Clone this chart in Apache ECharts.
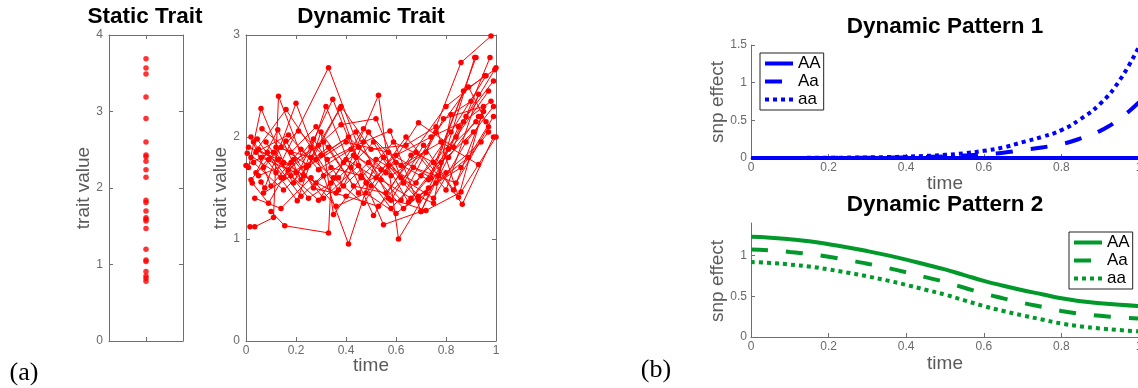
<!DOCTYPE html>
<html>
<head>
<meta charset="utf-8">
<script src="https://cdn.jsdelivr.net/npm/echarts@6/dist/echarts.min.js"></script>
<style>
  html, body { margin: 0; padding: 0; background: #fff; }
  #main { width: 1138px; height: 388px; }
</style>
</head>
<body>
<div id="main"></div>
<script>
// ---- data -------------------------------------------------------------
// static trait: one value per individual
const staticValues = [3.69, 3.57, 3.49, 3.19, 2.91, 2.60, 2.43, 2.41, 2.35, 2.24, 2.14,
  1.84, 1.81, 1.70, 1.61, 1.59, 1.57, 1.47, 1.20, 1.06, 1.04, 0.91, 0.85, 0.82, 0.78];

// dynamic trait: [time, value] measurements, one list per individual
const dynamicSubjects = [
  [[0.005,1.84],[0.12,1.65],[0.33,2.68],[0.45,1.90],[0.58,1.62],[0.72,1.85],[0.86,2.73],[0.98,2.99]],
  [[0.01,1.70],[0.06,2.28],[0.15,1.75],[0.28,1.55],[0.43,1.82],[0.55,1.14],[0.70,1.27],[0.85,2.10],[0.99,2.55]],
  [[0.016,1.12],[0.035,1.12],[0.11,1.21],[0.13,2.40],[0.24,1.70],[0.40,1.95],[0.57,1.85],[0.74,1.60],[0.92,2.78]],
  [[0.10,1.27],[0.155,1.13],[0.33,1.06],[0.34,1.55],[0.47,2.08],[0.62,1.72],[0.78,1.95],[0.93,1.73]],
  [[0.06,1.56],[0.075,1.50],[0.20,2.33],[0.31,1.62],[0.41,0.95],[0.52,1.78],[0.68,1.55],[0.82,2.05],[0.96,2.60]],
  [[0.02,1.80],[0.16,2.27],[0.26,1.90],[0.37,1.48],[0.53,2.41],[0.61,1.00],[0.72,1.45],[0.88,2.20],[1.00,2.68]],
  [[0.03,1.95],[0.205,1.375],[0.30,2.05],[0.35,1.24],[0.46,1.60],[0.59,1.95],[0.75,1.75],[0.865,1.34],[0.99,2.00]],
  [[0.04,1.65],[0.127,2.07],[0.22,1.58],[0.32,2.30],[0.42,1.70],[0.51,1.23],[0.66,1.82],[0.80,2.30],[0.955,2.60]],
  [[0.064,2.08],[0.18,1.85],[0.28,2.10],[0.39,1.75],[0.50,1.52],[0.64,2.00],[0.77,1.62],[0.915,2.78]],
  [[0.08,1.95],[0.19,1.55],[0.347,2.37],[0.44,1.80],[0.56,1.65],[0.69,2.14],[0.83,1.90],[0.976,2.78]],
  [[0.00,1.72],[0.14,1.90],[0.25,1.72],[0.376,2.28],[0.48,1.55],[0.60,1.75],[0.73,1.58],[0.87,2.45],[0.995,2.66]],
  [[0.05,1.88],[0.17,1.68],[0.29,1.92],[0.38,2.12],[0.52,2.18],[0.63,1.55],[0.76,2.05],[0.89,2.49],[0.96,2.15]],
  [[0.09,1.78],[0.21,2.06],[0.325,1.78],[0.47,1.95],[0.576,2.06],[0.70,1.27],[0.81,1.80],[0.93,2.20]],
  [[0.02,1.58],[0.11,1.85],[0.23,1.62],[0.36,1.45],[0.49,1.75],[0.62,1.38],[0.79,2.18],[0.95,2.30]],
  [[0.07,1.70],[0.16,1.96],[0.27,1.50],[0.40,1.42],[0.53,1.32],[0.67,1.70],[0.84,1.55],[0.97,2.10]],
  [[0.03,1.75],[0.15,1.48],[0.30,1.82],[0.44,2.05],[0.57,1.40],[0.72,1.28],[0.86,1.46],[1.00,2.00]],
  [[0.12,1.90],[0.26,1.80],[0.38,2.30],[0.50,1.88],[0.64,1.92],[0.76,2.10],[0.85,1.41],[0.94,2.20]],
  [[0.05,1.62],[0.18,1.75],[0.31,1.95],[0.45,1.45],[0.55,1.80],[0.69,1.42],[0.75,1.35],[0.82,2.22],[0.90,2.35]],
  [[0.085,1.85],[0.22,1.42],[0.34,1.70],[0.46,1.62],[0.58,1.38],[0.71,1.92],[0.83,1.48],[0.95,2.25]],
  [[0.01,1.90],[0.13,1.78],[0.25,1.40],[0.37,1.60],[0.51,1.95],[0.65,1.36],[0.78,1.75],[0.91,2.05]],
  [[0.06,1.80],[0.20,1.65],[0.33,1.90],[0.43,1.52],[0.56,1.45],[0.68,1.85],[0.80,1.48],[0.93,2.42]],
  [[0.14,1.60],[0.28,1.78],[0.41,2.00],[0.54,1.68],[0.60,1.82],[0.74,2.00],[0.87,2.15],[0.98,2.35]],
  [[0.04,1.85],[0.17,2.02],[0.29,1.68],[0.42,1.88],[0.54,1.58],[0.66,1.40],[0.81,1.88],[0.92,2.15]],
  [[0.025,1.55],[0.09,1.35],[0.19,1.78],[0.31,1.40],[0.45,1.72],[0.58,1.30],[0.70,1.62],[0.84,2.00],[0.97,2.45]],
  [[0.045,1.98],[0.15,1.60],[0.27,1.98],[0.39,1.52],[0.49,2.05],[0.62,1.60],[0.75,1.40],[0.88,1.95],[0.99,2.30]],
  [[0.035,1.40],[0.14,1.30],[0.26,1.60],[0.36,1.32],[0.48,1.45],[0.60,1.25],[0.73,1.50],[0.86,1.70],[0.97,2.05]],
  [[0.02,2.00],[0.10,1.52],[0.22,1.88],[0.35,1.60],[0.47,1.35],[0.57,1.72],[0.69,1.38],[0.80,1.65],[0.94,1.95]],
  [[0.07,1.45],[0.18,1.62],[0.29,1.38],[0.40,1.78],[0.52,1.60],[0.63,1.30],[0.76,1.55],[0.89,1.80],[0.99,2.20]]
];

// snp effect curves sampled on a common time grid
const timeGrid = [0, 0.05, 0.1, 0.15, 0.2, 0.25, 0.3, 0.35, 0.4, 0.45, 0.5,
  0.55, 0.6, 0.65, 0.7, 0.75, 0.8, 0.85, 0.9, 0.95, 1];
const genotypes = ['AA', 'Aa', 'aa'];

const pattern1AA = [0, 0, 0, 0, 0, 0, 0, 0, 0, 0, 0, 0, 0, 0, 0, 0, 0, 0, 0, 0, 0];
const pattern1Aa = [0, 0, 0, 0.001, 0.0015, 0.0025, 0.004, 0.006, 0.009, 0.014, 0.021,
  0.032, 0.048, 0.07, 0.105, 0.14, 0.185, 0.26, 0.36, 0.52, 0.74];
const pattern1aa = [0, 0, 0, 0.002, 0.003, 0.005, 0.008, 0.012, 0.018, 0.028, 0.042,
  0.063, 0.095, 0.14, 0.21, 0.28, 0.37, 0.52, 0.72, 1.03, 1.48];

const pattern2AA = [1.23, 1.22, 1.20, 1.175, 1.14, 1.10, 1.055, 1.005, 0.95, 0.89, 0.83,
  0.76, 0.69, 0.63, 0.575, 0.525, 0.475, 0.44, 0.415, 0.395, 0.38];
const pattern2Aa = [1.075, 1.065, 1.045, 1.02, 0.985, 0.945, 0.90, 0.85, 0.795, 0.735, 0.675,
  0.605, 0.535, 0.475, 0.42, 0.37, 0.32, 0.285, 0.26, 0.24, 0.225];
const pattern2aa = [0.92, 0.91, 0.89, 0.865, 0.83, 0.79, 0.745, 0.695, 0.64, 0.58, 0.52,
  0.45, 0.38, 0.32, 0.265, 0.215, 0.165, 0.13, 0.105, 0.085, 0.07];

// ---- styling ----------------------------------------------------------
const SANS = "'Liberation Sans', Arial, Helvetica, sans-serif";
const AXIS_GRAY = '#6f6f6f';
const LABEL_GRAY = '#6a6a6a';
const NAME_GRAY = '#5a5a5a';
const RED = '#ff0000';
const BLUE = '#0000ff';
const GREEN = '#00992a';
const DASH = [17, 18];
const DOT = [4, 4];
const lineTypes = ['solid', DASH, DOT];

const gridBase = { outerBoundsMode: 'none', containLabel: false };
const grids = [
  Object.assign({ left: 109, top: 35, width: 74, height: 306 }, gridBase),   // static trait
  Object.assign({ left: 246, top: 35, width: 250, height: 306 }, gridBase),  // dynamic trait
  Object.assign({ left: 751, top: 45, width: 388, height: 113 }, gridBase),  // dynamic pattern 1
  Object.assign({ left: 751, top: 223, width: 388, height: 114 }, gridBase)  // dynamic pattern 2
];

function axisBase(extra) {
  return Object.assign({
    type: 'value',
    splitLine: { show: false },
    axisLine: { show: true, onZero: false, lineStyle: { color: AXIS_GRAY, width: 1 } },
    axisTick: { show: true, inside: true, length: 4, lineStyle: { color: AXIS_GRAY } },
    axisLabel: { show: true, color: LABEL_GRAY, fontFamily: SANS, fontSize: 12, margin: 5 }
  }, extra);
}

const xAxes = [
  // static trait, bottom and mirrored top
  axisBase({ gridIndex: 0, min: 0, max: 2, position: 'bottom',
    axisTick: { show: true, inside: true, length: 4, customValues: [1], lineStyle: { color: AXIS_GRAY } },
    axisLabel: { show: false } }),
  axisBase({ gridIndex: 0, min: 0, max: 2, position: 'top',
    axisTick: { show: true, inside: true, length: 4, customValues: [1], lineStyle: { color: AXIS_GRAY } },
    axisLabel: { show: false } }),
  // dynamic trait
  axisBase({ gridIndex: 1, min: 0, max: 1, interval: 0.2, position: 'bottom',
    axisLabel: { show: true, color: LABEL_GRAY, fontFamily: SANS, fontSize: 12, margin: 4 } }),
  axisBase({ gridIndex: 1, min: 0, max: 1, interval: 0.2, position: 'top', axisLabel: { show: false } }),
  // patterns
  axisBase({ gridIndex: 2, min: 0, max: 1, interval: 0.2, position: 'bottom',
    axisLabel: { show: true, color: LABEL_GRAY, fontFamily: SANS, fontSize: 12, margin: 4 } }),
  axisBase({ gridIndex: 3, min: 0, max: 1, interval: 0.2, position: 'bottom',
    axisLabel: { show: true, color: LABEL_GRAY, fontFamily: SANS, fontSize: 12, margin: 4 } })
];

const yAxes = [
  axisBase({ gridIndex: 0, min: 0, max: 4, interval: 1, position: 'left',
    axisLabel: { show: true, color: LABEL_GRAY, fontFamily: SANS, fontSize: 12, margin: 6 } }),
  axisBase({ gridIndex: 0, min: 0, max: 4, interval: 1, position: 'right', axisLabel: { show: false } }),
  axisBase({ gridIndex: 1, min: 0, max: 3, interval: 1, position: 'left',
    axisLabel: { show: true, color: LABEL_GRAY, fontFamily: SANS, fontSize: 12, margin: 6 } }),
  axisBase({ gridIndex: 1, min: 0, max: 3, interval: 1, position: 'right', axisLabel: { show: false } }),
  axisBase({ gridIndex: 2, min: 0, max: 1.5, interval: 0.5, position: 'left',
    axisLabel: { show: true, color: LABEL_GRAY, fontFamily: SANS, fontSize: 12, margin: 4 } }),
  axisBase({ gridIndex: 3, min: 0, max: 1.4, position: 'left',
    axisTick: { show: true, inside: true, length: 4, customValues: [0, 0.5, 1], lineStyle: { color: AXIS_GRAY } },
    axisLabel: { show: true, color: LABEL_GRAY, fontFamily: SANS, fontSize: 12, margin: 4, customValues: [0, 0.5, 1] } })
];

// ---- series -----------------------------------------------------------
const series = [];

series.push({
  type: 'scatter', xAxisIndex: 0, yAxisIndex: 0,
  symbol: 'circle', symbolSize: 5.5,
  itemStyle: { color: RED },
  data: staticValues.map(v => [1, v]),
  silent: true
});

dynamicSubjects.forEach((pts, i) => {
  series.push({
    type: 'line', name: 'subject' + (i + 1), xAxisIndex: 2, yAxisIndex: 2,
    symbol: 'circle', symbolSize: 5.5, showSymbol: true,
    lineStyle: { color: RED, width: 1 },
    itemStyle: { color: RED },
    data: pts, silent: true
  });
});

const pattern1 = [pattern1AA, pattern1Aa, pattern1aa];
const pattern2 = [pattern2AA, pattern2Aa, pattern2aa];

[pattern1, pattern2].forEach((curves, p) => {
  const color = p === 0 ? BLUE : GREEN;
  curves.forEach((vals, g) => {
    series.push({
      type: 'line', name: 'p' + (p + 1) + ':' + genotypes[g],
      xAxisIndex: 4 + p, yAxisIndex: 4 + p,
      symbol: 'none', smooth: true,
      lineStyle: { color: color, width: 4, type: lineTypes[g], cap: 'butt' },
      itemStyle: { color: color },
      data: timeGrid.map((t, k) => [t, vals[k]]),
      z: 5 - g
    });
  });
});

function legendFor(p, left, top) {
  return {
    orient: 'vertical', left: left, top: top,
    data: genotypes.map(g => 'p' + p + ':' + g),
    formatter: name => name.split(':')[1],
    itemWidth: 28, itemHeight: 4, itemGap: 1,
    itemStyle: { opacity: 0 },
    lineStyle: { width: 4 },
    padding: [2, 3, 2, 3],
    borderColor: '#222', borderWidth: 1, backgroundColor: '#fff',
    textStyle: { color: '#000', fontFamily: SANS, fontSize: 17, lineHeight: 17 },
    selectedMode: false
  };
}

// ---- text -------------------------------------------------------------
function label(text, x, y, font, fill, rotation) {
  return {
    type: 'text', x: x, y: y, rotation: rotation || 0, silent: true,
    style: { text: text, font: font, fill: fill, textAlign: 'center', textVerticalAlign: 'middle' }
  };
}
const TITLE_FONT = 'bold 22.5px ' + SANS;
const NAME_FONT = '19px ' + SANS;
const PANEL_FONT = '26px "Liberation Serif", "DejaVu Serif", serif';

const texts = [
  label('Static Trait', 145, 17, TITLE_FONT, '#000'),
  label('Dynamic Trait', 371, 17, TITLE_FONT, '#000'),
  label('Dynamic Pattern 1', 945, 27, TITLE_FONT, '#000'),
  label('Dynamic Pattern 2', 945, 205, TITLE_FONT, '#000'),
  label('trait value', 84, 188, NAME_FONT, NAME_GRAY, Math.PI / 2),
  label('trait value', 221, 188, NAME_FONT, NAME_GRAY, Math.PI / 2),
  label('time', 371, 366, NAME_FONT, NAME_GRAY),
  label('snp effect', 718, 102, NAME_FONT, NAME_GRAY, Math.PI / 2),
  label('time', 945, 184, NAME_FONT, NAME_GRAY),
  label('snp effect', 718, 281, NAME_FONT, NAME_GRAY, Math.PI / 2),
  label('time', 945, 364, NAME_FONT, NAME_GRAY),
  label('(a)', 24, 373, PANEL_FONT, '#000'),
  label('(b)', 656, 370, PANEL_FONT, '#000')
];

const chart = echarts.init(document.getElementById('main'), null, { renderer: 'canvas' });
chart.setOption({
  animation: false,
  backgroundColor: '#fff',
  grid: grids,
  xAxis: xAxes,
  yAxis: yAxes,
  legend: [legendFor(1, 760, 53), legendFor(2, 1069, 232)],
  series: series,
  graphic: texts
});
</script>
</body>
</html>
